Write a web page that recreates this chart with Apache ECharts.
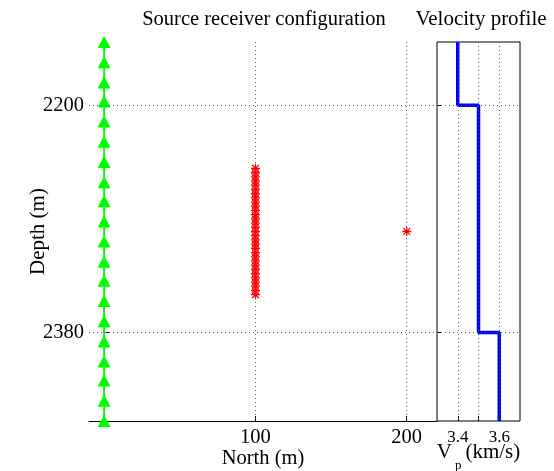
<!DOCTYPE html>
<html>
<head>
<meta charset="utf-8">
<script src="https://cdn.jsdelivr.net/npm/echarts@6/dist/echarts.min.js"></script>
<style>
  html, body { margin: 0; padding: 0; background: #fff; }
  #main { width: 554px; height: 471px; }
</style>
</head>
<body>
<div id="main"></div>
<script>
// receivers (green triangles) along the well, north = 0
var receiverNorth = 0;
var receiverDepths = [2150, 2166, 2182, 2197, 2213, 2229, 2245, 2261, 2276, 2292,
                      2308, 2324, 2339, 2355, 2371, 2387, 2403, 2418, 2434, 2450];
// sources (red stars)
var sourceNorth = [100, 100, 100, 100, 100, 100, 100, 100, 100, 100, 100,
                   100, 100, 100, 100, 100, 100, 100, 100, 100, 100,
                   100, 100, 100, 100, 100, 100, 100, 100, 100, 100, 200];
var sourceDepths = [2250, 2253.3, 2256.7, 2260, 2263.3, 2266.7, 2270, 2273.3, 2276.7, 2280, 2283.3,
                    2286.7, 2290, 2293.3, 2296.7, 2300, 2303.3, 2306.7, 2310, 2313.3, 2316.7,
                    2320, 2323.3, 2326.7, 2330, 2333.3, 2336.7, 2340, 2343.3, 2346.7, 2350, 2300];
// velocity layers
var layerTop = [2150, 2200, 2380];
var layerBottom = [2200, 2380, 2450];
var layerVp = [3.4, 3.5, 3.6];
// ticks
var depthTicks = [2200, 2380];
var northTicks = [100, 200];
var vpLabels = [3.4, 3.6];
var vpTicks = [3.4, 3.5, 3.6];

var font = 'Liberation Serif';
var star = 'path://M4.3,0 L5.7,0 L5.7,10 L4.3,10 Z M0,4.3 L10,4.3 L10,5.7 L0,5.7 Z ' +
           'M0.8,1.8 L1.8,0.8 L9.2,8.2 L8.2,9.2 Z M0.8,8.2 L8.2,0.8 L9.2,1.8 L1.8,9.2 Z';

var receivers = receiverDepths.map(function (d) { return [receiverNorth, d]; });
var sources = sourceDepths.map(function (d, i) { return [sourceNorth[i], d]; });
var profile = [];
layerVp.forEach(function (v, i) {
  profile.push([v, layerTop[i]]);
  profile.push([v, layerBottom[i]]);
});

var dotted = { color: '#555', width: 1, type: [1, 3] };
function gridLines(xs, ys) {
  var d = [];
  xs.forEach(function (x) { d.push({ xAxis: x }); });
  ys.forEach(function (y) { d.push({ yAxis: y }); });
  return { silent: true, symbol: 'none', label: { show: false }, lineStyle: dotted, data: d, animation: false };
}
function plain(v) { return String(v); }

var myChart = echarts.init(document.getElementById('main'));
var option = {
  animation: false,
  title: [
    { text: 'Source receiver configuration', left: 259, top: 4, textAlign: 'center',
      textStyle: { fontFamily: font, fontSize: 20.5, fontWeight: 'normal', color: '#000' } },
    { text: 'Velocity profile', left: 476, top: 4, textAlign: 'center',
      textStyle: { fontFamily: font, fontSize: 21, fontWeight: 'normal', color: '#000' } }
  ],
  grid: [
    { left: 89, top: 42, width: 348, height: 379, outerBoundsMode: 'none', containLabel: false },
    { left: 437, top: 42, width: 83, height: 379, outerBoundsMode: 'none', containLabel: false,
      show: true, borderColor: '#000', borderWidth: 1 }
  ],
  xAxis: [
    { gridIndex: 0, type: 'value', min: -10, max: 220,
      name: 'North (m)', nameLocation: 'middle', nameGap: 27, nameMoveOverlap: false,
      nameTextStyle: { fontFamily: font, fontSize: 20.5, color: '#000' },
      axisLine: { show: true, lineStyle: { color: '#000', width: 1 } },
      axisTick: { show: true, inside: true, length: 5, customValues: northTicks, lineStyle: { color: '#000' } },
      axisLabel: { customValues: northTicks, formatter: plain, margin: 6, fontFamily: font, fontSize: 20.5, color: '#000' },
      splitLine: { show: false } },
    { gridIndex: 1, type: 'value', min: 3.3, max: 3.7,
      name: '{a|V}{b|p}{a|(km/s)}', nameLocation: 'middle', nameGap: 12, nameMoveOverlap: false,
      nameTextStyle: { rich: {
        a: { fontFamily: font, fontSize: 21, color: '#000' },
        b: { fontFamily: font, fontSize: 13, color: '#000', padding: [26, 4, 0, 3] }
      } },
      axisLine: { show: false },
      axisTick: { show: true, inside: true, length: 5, customValues: vpTicks, lineStyle: { color: '#000' } },
      axisLabel: { customValues: vpLabels, formatter: plain, margin: 8, fontFamily: font, fontSize: 17, color: '#000' },
      splitLine: { show: false } }
  ],
  yAxis: [
    { gridIndex: 0, type: 'value', min: 2150, max: 2450, inverse: true,
      name: 'Depth (m)', nameLocation: 'middle', nameGap: 40, nameRotate: 90, nameMoveOverlap: false,
      nameTextStyle: { fontFamily: font, fontSize: 21, color: '#000' },
      axisLine: { show: true, lineStyle: { color: '#000', width: 1 } },
      axisTick: { show: true, inside: true, length: 5, customValues: depthTicks, lineStyle: { color: '#000' } },
      axisLabel: { customValues: depthTicks, formatter: plain, margin: 5, fontFamily: font, fontSize: 20.5, color: '#000' },
      splitLine: { show: false } },
    { gridIndex: 1, type: 'value', min: 2150, max: 2450, inverse: true,
      axisLine: { show: false },
      axisTick: { show: true, inside: true, length: 5, customValues: depthTicks, lineStyle: { color: '#000' } },
      axisLabel: { show: false },
      splitLine: { show: false } }
  ],
  series: [
    { type: 'line', xAxisIndex: 0, yAxisIndex: 0, data: [], markLine: gridLines(northTicks, depthTicks) },
    { type: 'line', xAxisIndex: 0, yAxisIndex: 0, data: receivers, clip: false,
      symbol: 'triangle', symbolSize: [13, 12], showAllSymbol: true,
      lineStyle: { color: '#00ff00', width: 2 },
      itemStyle: { color: '#00ff00' }, z: 3 },
    { type: 'scatter', xAxisIndex: 0, yAxisIndex: 0, data: sources,
      symbol: star, symbolSize: 9, itemStyle: { color: '#ff0000', opacity: 1 }, z: 4 },
    { type: 'line', xAxisIndex: 1, yAxisIndex: 1, data: [], markLine: gridLines(vpTicks, depthTicks) },
    { type: 'line', xAxisIndex: 1, yAxisIndex: 1, data: profile, symbol: 'none',
      lineStyle: { color: '#0000ff', width: 3.5 }, z: 3 }
  ]
};
myChart.setOption(option);
</script>
</body>
</html>
